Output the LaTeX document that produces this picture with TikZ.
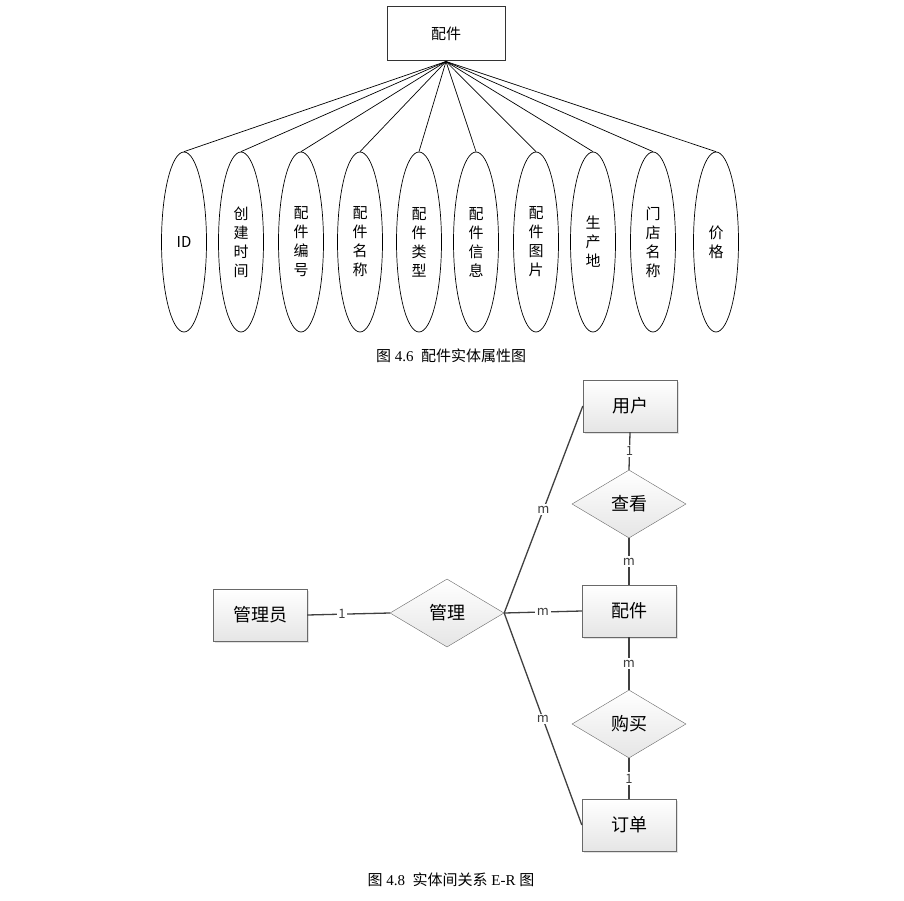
\documentclass[tikz,border=0pt]{standalone}
\usepackage{fontspec}
\setmainfont{Liberation Serif}
\newfontfamily\cjk{Noto Sans CJK SC}
\usetikzlibrary{shapes.geometric, shadows, positioning}
\definecolor{erline}{RGB}{64,64,64}
\definecolor{erborder}{RGB}{105,105,105}
\tikzset{
  attrbox/.style={rectangle, draw=black!80, line width=1pt, minimum width=118pt,
              minimum height=54pt, font=\cjk\fontsize{15}{18}\selectfont},
  attr/.style={ellipse, draw, line width=0.7pt, minimum width=45pt, minimum height=180pt,
              inner sep=0pt, align=center, font=\cjk\fontsize{15}{19}\selectfont},
  entity/.style={rectangle, draw=erborder, top color=white, bottom color=gray!20,
              drop shadow={shadow xshift=2pt, shadow yshift=-2pt, fill=gray!45},
              minimum width=94pt, minimum height=52pt, font=\cjk\fontsize{18}{21}\selectfont},
  rel/.style={diamond, draw=erborder, top color=white, bottom color=gray!20,
              minimum width=114pt, minimum height=68pt, inner sep=0pt,
              font=\cjk\fontsize{18}{21}\selectfont},
  card/.style={fill=white, inner sep=1.5pt, font=\cjk\fontsize{13}{15}\selectfont},
  link/.style={line width=1.3pt, color=erline},
  caption/.style={font=\fontsize{15}{18}\selectfont},
}
\begin{document}
\begin{tikzpicture}[x=1pt, y=-1pt]
  \useasboundingbox (0,0) rectangle (904,901);
  % attribute diagram
  \node[attrbox] (pj) at (446,34) {配件};
  \foreach \x/\txt [count=\i] in {184/{ID}, 241/{创\\建\\时\\间}, 301/{配\\件\\编\\号},
      360/{配\\件\\名\\称}, 419/{配\\件\\类\\型}, 476/{配\\件\\信\\息},
      536/{配\\件\\图\\片}, 593/{生\\产\\地}, 653/{门\\店\\名\\称}, 716/{价\\格}}{
    \node[attr] (a\i) at (\x,242) {\txt};
    \draw[line width=0.7pt] (pj.south) -- (a\i.north);
  }
  \node[caption] (cap1) at (451,356) {{\cjk 图}\ 4.6\ \ {\cjk 配件实体属性图}};
  % E-R diagram
  \node[entity] (yh) at (630,406) {用户};
  \node[rel] (ck) at (629,504) {查看};
  \node[entity] (pj2) at (629,611) {配件};
  \node[rel] (gm) at (629,724) {购买};
  \node[entity] (dd) at (629,825) {订单};
  \node[entity] (gly) at (260,615) {管理员};
  \node[rel] (gl) at (447,613) {管理};
  \draw[link] (gly.east) -- node[card, pos=0.42] {1} (gl.west);
  \draw[link] (gl.east) -- node[card] {m} (yh.west);
  \draw[link] (gl.east) -- node[card] {m} (pj2.west);
  \draw[link] (gl.east) -- node[card] {m} (dd.west);
  \draw[link] (yh.south) -- node[card] {1} (ck.north);
  \draw[link] (ck.south) -- node[card] {m} (pj2.north);
  \draw[link] (pj2.south) -- node[card] {m} (gm.north);
  \draw[link] (gm.south) -- node[card] {1} (dd.north);
  \node[caption] (cap2) at (451,880) {{\cjk 图}\ 4.8\ \ {\cjk 实体间关系}\ E-R\ {\cjk 图}};
\end{tikzpicture}
\end{document}
